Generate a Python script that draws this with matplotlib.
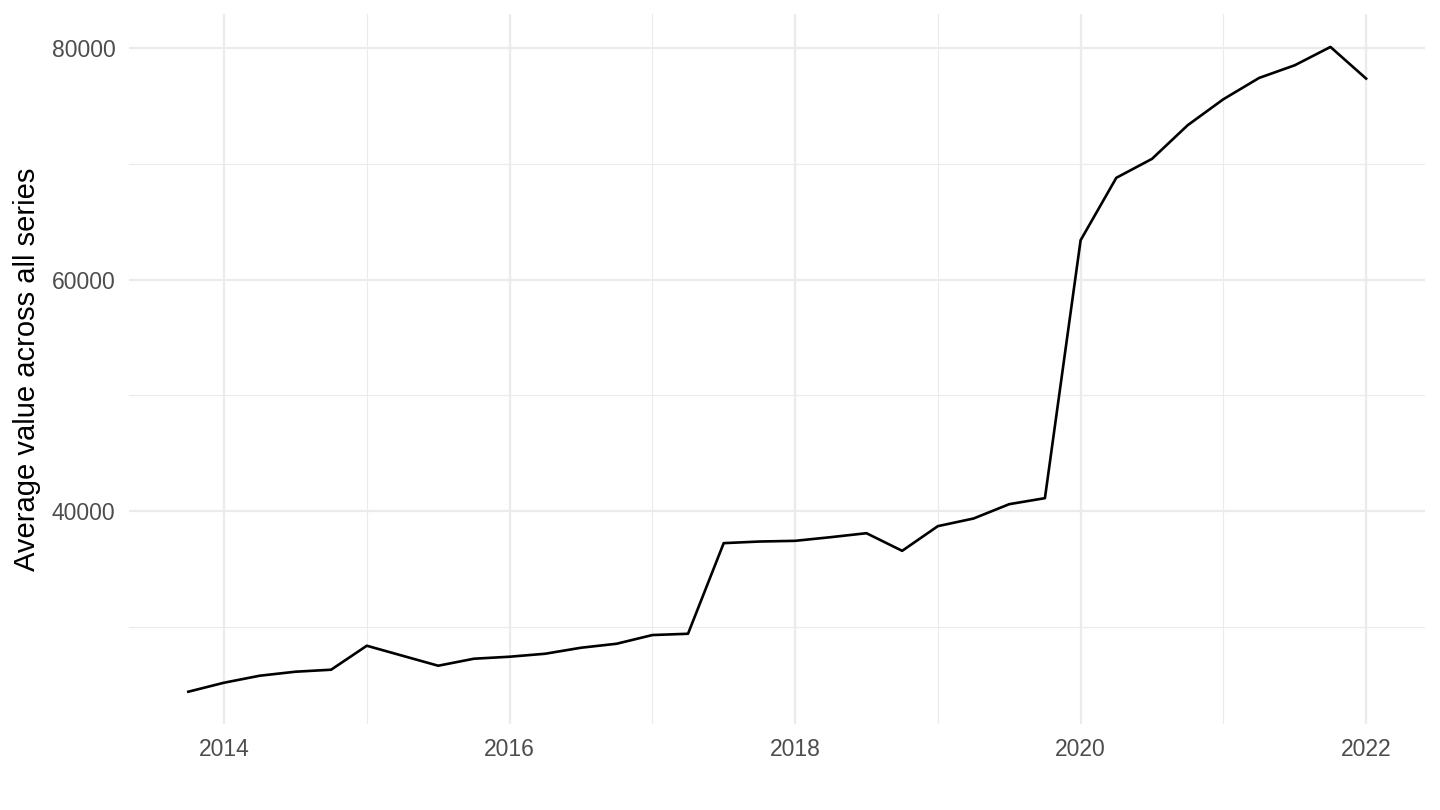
import matplotlib
matplotlib.use("Agg")
import matplotlib.pyplot as plt

quarters = [2013.75 + 0.25 * i for i in range(34)]
values = [24364, 25142, 25747, 26093, 26265, 28339, 27475, 26611, 27216, 27389,
          27648, 28166, 28512, 29263, 29375, 37210, 37350, 37410, 37727, 38070,
          36546, 38680, 39340, 40580, 41100, 63400, 68800, 70437, 73348, 75594,
          77434, 78531, 80115, 77380]
x_ticks = [2014, 2016, 2018, 2020, 2022]
x_minor = [2015, 2017, 2019, 2021]
y_ticks = [40000, 60000, 80000]
y_minor = [30000, 50000, 70000]
y_label = "Average value across all series"

plt.rcParams['font.family'] = ['Liberation Sans', 'DejaVu Sans']
fig = plt.figure(figsize=(14.4, 8.1), dpi=100)
ax = fig.add_axes([0.0899, 0.1062, 0.8997, 0.8765])
ax.plot(quarters, values, color='black', lw=1.9, zorder=3)
ax.set_xlim(2013.3375, 2022.4125)
ax.set_ylim(21574, 82963)
ax.set_xticks(x_ticks)
ax.set_xticklabels([str(t) for t in x_ticks])
ax.set_yticks(y_ticks)
ax.set_yticklabels([str(t) for t in y_ticks])
ax.set_xticks(x_minor, minor=True)
ax.set_yticks(y_minor, minor=True)
ax.grid(which='major', color='#EBEBEB', lw=1.6)
ax.grid(which='minor', color='#EBEBEB', lw=0.8)
ax.set_axisbelow(True)
for s in ax.spines.values():
    s.set_visible(False)
ax.tick_params(which='both', length=0, labelsize=16.5, labelcolor='#4D4D4D')
ax.tick_params(axis='y', pad=10)
ax.tick_params(axis='x', pad=10)
ax.set_ylabel(y_label, fontsize=21, color='black', labelpad=8)
fig.savefig("out.png", dpi=100)
